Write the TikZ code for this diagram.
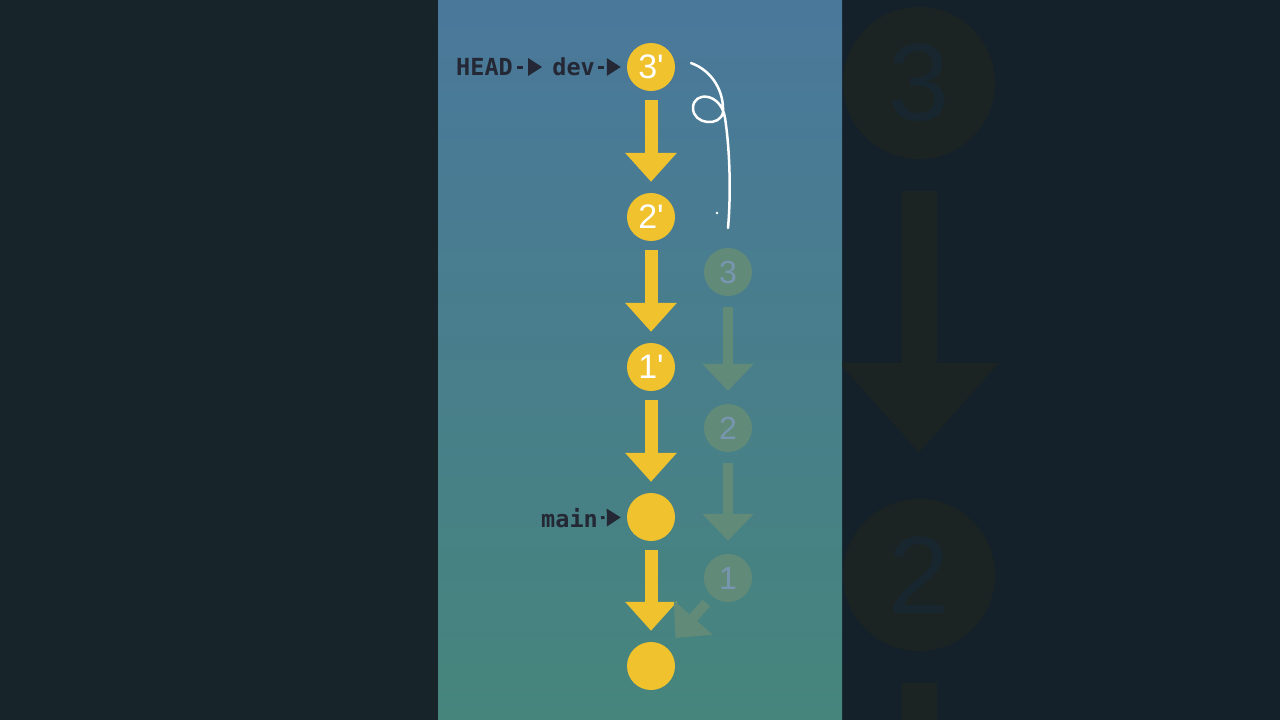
\documentclass[tikz,border=0pt]{standalone}
\usepackage{fontspec}
\setmainfont{Liberation Sans}
\newfontfamily\labelfont{DejaVu Sans Mono}
\usetikzlibrary{arrows.meta, positioning}

\definecolor{commityellow}{HTML}{F0C22E}
\definecolor{ghostgreen}{HTML}{628A79}
\definecolor{ghosttext}{HTML}{7896B0}
\definecolor{ink}{HTML}{232834}
\definecolor{panelleft}{HTML}{17242A}
\definecolor{panelright}{HTML}{14202A}
\definecolor{skytop}{HTML}{4A789B}
\definecolor{skybottom}{HTML}{46857C}
\definecolor{shadowfill}{HTML}{1B2422}
\definecolor{shadowtext}{HTML}{18262F}

\begin{document}
\begin{tikzpicture}[x=1pt, y=-1pt,
   commit/.style={circle, fill=commityellow, minimum size=48pt, inner sep=0pt, text=white, font=\fontsize{34}{34}\selectfont},
   ghost/.style={circle, fill=ghostgreen, minimum size=48pt, inner sep=0pt, text=ghosttext, font=\fontsize{32}{32}\selectfont},
   bigghost/.style={circle, fill=shadowfill, minimum size=152pt, inner sep=0pt, text=shadowtext, font=\fontsize{110}{110}\selectfont},
   ref/.style={inner sep=0pt, text=ink, font=\labelfont\bfseries\fontsize{23.5}{24}\selectfont},
   parent/.style={draw=commityellow, line width=13pt, -{Triangle[length=29pt, width=50pt]}, shorten <=9pt, shorten >=11pt},
   ghostparent/.style={draw=ghostgreen, line width=10pt, -{Triangle[length=27pt, width=50pt]}, shorten <=11pt, shorten >=13pt},
   pointer/.style={draw=ink, line width=3pt, dash pattern=on 6pt off 20pt, -{Triangle[length=14pt, width=17pt]}}]
   \useasboundingbox (0, 0) rectangle (1280, 720);

   % backdrop
   \fill[panelleft] (0, 0) rectangle (438, 720);
   \fill[panelright] (842, 0) rectangle (1280, 720);
   \shade[top color=skytop, bottom color=skybottom] (438, 0) rectangle (842, 720);

   % blurred zoom on the right
   \begin{scope}
      \clip (842, 0) rectangle (1280, 720);
      \node[bigghost] (V3) at (919, 83) {3};
      \node[bigghost] (V2) at (919, 575) {2};
      \coordinate (V1) at (919, 780);
      \draw[draw=shadowfill, line width=35pt, -{Triangle[length=90pt, width=154pt]}, shorten <=32pt, shorten >=46pt] (V3) -- (V2);
      \draw[draw=shadowfill, line width=35pt, shorten <=32pt] (V2) -- (V1);
   \end{scope}

   % old commits
   \node[ghost] (G3) at (728, 272) {3};
   \node[ghost] (G2) at (728, 428) {2};
   \node[ghost] (G1) at (728, 578) {1};
   \draw[ghostparent] (G3) -- (G2);
   \draw[ghostparent] (G2) -- (G1);

   % rebased commits
   \node[commit] (C3) at (651, 67) {3\textquotesingle};
   \node[commit] (C2) at (651, 217) {2\textquotesingle};
   \node[commit] (C1) at (651, 367) {1\textquotesingle};
   \node[commit] (CM) at (651, 517) {};
   \node[commit] (C0) at (651, 666) {};
   \draw[parent] (C3) -- (C2);
   \draw[parent] (C2) -- (C1);
   \draw[parent] (C1) -- (CM);
   \draw[parent] (CM) -- (C0);
   \draw[ghostparent, shorten <=9pt, shorten >=13pt] (G1) -- (C0);

   % refs
   \node[ref, anchor=east] (H) at (513, 67) {HEAD};
   \node[ref, anchor=east] (D) at (595, 67) {dev};
   \node[ref, anchor=east] (M) at (598, 518) {main};
   \draw[pointer, shorten <=4pt, shorten >=10pt] (H) -- (D);
   \draw[pointer, shorten <=3pt, shorten >=6pt] (D) -- (C3);
   \draw[pointer, dash pattern=on 3.5pt off 20pt, shorten <=3pt, shorten >=6pt] (M) -- (CM);

   % scribble
   \draw[white, line width=2.5pt, line cap=round] (691, 63) .. controls (713, 71) and (724, 92) .. (723, 112)
      .. controls (721, 127) and (693, 125) .. (693, 108) .. controls (693, 91) and (721, 92) .. (725, 118)
      .. controls (730, 150) and (731, 195) .. (728, 228);
   \fill[white] (717, 213) circle (1.3);
\end{tikzpicture}
\end{document}
